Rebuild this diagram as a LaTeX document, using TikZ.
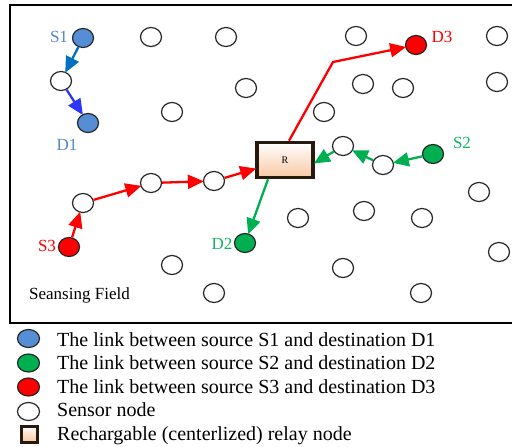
\documentclass[tikz,border=0pt]{standalone}
\usepackage{fontspec}
\setmainfont{Liberation Serif}
\usetikzlibrary{arrows.meta,shapes.geometric,calc}
\definecolor{bluefill}{RGB}{85,142,213}
\definecolor{bluelab}{RGB}{84,136,205}
\definecolor{bluearrA}{RGB}{0,112,192}
\definecolor{bluearrB}{RGB}{45,55,250}
\definecolor{gfill}{RGB}{0,176,80}
\definecolor{glab}{RGB}{20,180,100}
\definecolor{rfill}{RGB}{255,0,0}
\definecolor{boxborder}{RGB}{38,26,15}
\definecolor{peach}{RGB}{249,200,162}
\tikzset{
  sensor/.style={ellipse,draw=black!85,line width=1.2pt,fill=white,minimum width=21pt,minimum height=19pt,inner sep=0pt},
  bnode/.style={sensor,fill=bluefill},
  gnode/.style={sensor,fill=gfill},
  rnode/.style={sensor,fill=rfill},
  lab/.style={font=\fontsize{17}{19}\selectfont,inner sep=0pt},
  tip/.style={-{Triangle[length=16pt,width=14pt]},line width=2.3pt,shorten >=-1pt},
  barA/.style={tip,draw=bluearrA},
  barB/.style={tip,draw=bluearrB},
  rarr/.style={tip,draw=rfill},
  garr/.style={tip,draw=gfill},
  relay/.style={rectangle,draw=boxborder,line width=3.5pt,top color=white,bottom color=peach,inner sep=0pt},
  legtext/.style={anchor=base west,font=\fontsize{20}{22}\selectfont,inner sep=0pt},
  legnode/.style={ellipse,draw=black!85,line width=1.2pt,minimum width=22pt,minimum height=18pt,inner sep=0pt}
}
\begin{document}
\begin{tikzpicture}[x=1pt,y=-1pt]
\useasboundingbox (0,0) rectangle (512,447);
\fill[white] (0,0) rectangle (512,447);
% field frame
\draw[line width=1.5pt] (530,5) -- (10,5) -- (10,323) -- (530,323);
% sensor nodes
\node[sensor] (w1) at (151,37) {};
\node[sensor] (w2) at (226,37) {};
\node[sensor] (w3) at (356,36) {};
\node[sensor] (w4) at (497,36) {};
\node[sensor] (w5) at (61,81) {};
\node[sensor] (w6) at (246,88) {};
\node[sensor] (w7) at (363,84) {};
\node[sensor] (w8) at (403,88) {};
\node[sensor] (w9) at (497,82) {};
\node[sensor] (w10) at (172,112) {};
\node[sensor] (w11) at (324,112) {};
\node[sensor] (w12) at (343,146) {};
\node[sensor] (w13) at (383,165) {};
\node[sensor] (w14) at (83,203) {};
\node[sensor] (w15) at (151,183) {};
\node[sensor] (w16) at (214,181) {};
\node[sensor] (w17) at (479,192) {};
\node[sensor] (w18) at (298,218) {};
\node[sensor] (w19) at (364,211) {};
\node[sensor] (w20) at (422,218) {};
\node[sensor] (w21) at (499,252) {};
\node[sensor] (w22) at (172,265) {};
\node[sensor] (w23) at (343,268) {};
\node[sensor] (w24) at (214,293) {};
\node[sensor] (w25) at (421,293) {};
% sources / destinations
\node[bnode] (S1) at (83,38) {};
\node[bnode] (D1) at (88,123) {};
\node[gnode] (S2) at (433,154) {};
\node[gnode] (D2) at (245,243) {};
\node[rnode] (S3) at (69,247) {};
\node[rnode] (D3) at (416,45) {};
% relay
\node[relay,minimum width=56pt,minimum height=35pt] (R) at (285,160) {\fontsize{10}{12}\selectfont R};
% labels
\node[lab,text=bluelab] (lS1) at (59,37) {S1};
\node[lab,text=bluelab] (lD1) at (67,145) {D1};
\node[lab,text=rfill] (lD3) at (442,37) {D3};
\node[lab,text=glab] (lS2) at (462,143) {S2};
\node[lab,text=rfill] (lS3) at (47,246) {S3};
\node[lab,text=glab] (lD2) at (222,244) {D2};
\node[lab,anchor=west] (field) at (29,295) {Seansing Field};
% links S1-D1
\draw[barA] (S1) -- (w5);
\draw[barB] (w5) -- (D1);
% links S3-D3
\draw[rarr] (S3) -- (w14);
\draw[rarr] (w14) -- (w15);
\draw[rarr] (w15) -- (w16);
\draw[rarr] (w16) -- (R);
\coordinate (bend) at (333,62);
\draw[rarr] ([xshift=4pt]R.north) -- (bend) -- (D3);
% links S2-D2
\draw[garr] (S2) -- (w13);
\draw[garr] (w13) -- (w12);
\draw[garr] (w12) -- ([yshift=-3pt]R.east);
\draw[garr] ([xshift=-17pt]R.south) -- (D2);
% legend
\node[legnode,fill=bluefill] (L1) at (28.5,338.5) {};
\node[legnode,fill=gfill] (L2) at (28.5,363) {};
\node[legnode,fill=rfill] (L3) at (28.5,387) {};
\node[legnode,fill=white] (L4) at (28.5,411.5) {};
\node[relay,line width=3pt,minimum width=16pt,minimum height=16pt] (L5) at (29,434) {};
\node[legtext] (T1) at (57,346) {The link between source S1 and destination D1};
\node[legtext] (T2) at (57,369.5) {The link between source S2 and destination D2};
\node[legtext] (T3) at (57,393) {The link between source S3 and destination D3};
\node[legtext] (T4) at (57,416.5) {Sensor node};
\node[legtext] (T5) at (57,440) {Rechargable (centerlized) relay node};
\end{tikzpicture}
\end{document}
